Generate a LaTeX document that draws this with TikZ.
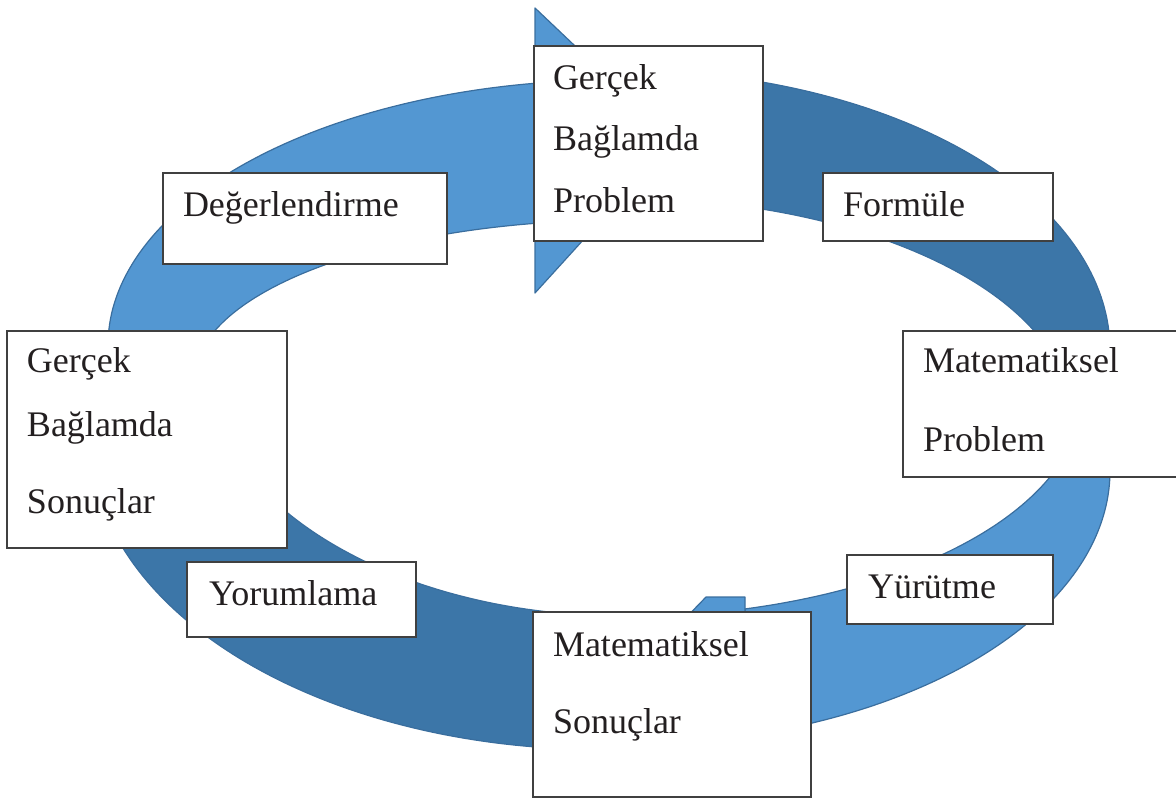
\documentclass[tikz,border=0pt]{standalone}
\usepackage{fontspec}
\setmainfont{Liberation Serif}
\definecolor{ringlight}{HTML}{5397D2}
\definecolor{ringdark}{HTML}{3C76A8}
\definecolor{ringedge}{HTML}{3A6E9E}
\definecolor{boxedge}{HTML}{404040}
\definecolor{ink}{HTML}{231F20}
\begin{document}
\begin{tikzpicture}[x=1pt,y=-1pt,
  lightseg/.style={fill=ringlight, draw=ringedge, line width=1.2pt, line join=round},
  darkseg/.style={fill=ringdark, draw=ringedge, line width=1.2pt, line join=round},
  stagebox/.style={draw=boxedge, fill=white, line width=1.4pt, inner sep=0pt, outer sep=0pt, anchor=north west},
  txt/.style={anchor=base west, inner sep=0pt, outer sep=0pt, text=ink, font=\fontsize{36}{40}\selectfont}]
\path[use as bounding box] (0,0) rectangle (1176,799);
\clip (0,0) rectangle (1176,799);

% dark quarter: top to right
\filldraw[darkseg]
  plot[domain=88:-10, samples=80] ({620+490*cos(\x)},{350-280*sin(\x)})
  -- plot[domain=-10:88, samples=80] ({622+450*cos(\x)},{420-222*sin(\x)}) -- cycle;

% dark quarter: bottom to left
\filldraw[darkseg]
  plot[domain=278:185, samples=80] ({600+510*cos(\x)},{438-311.5*sin(\x)})
  -- plot[domain=185:278, samples=80] ({622+420*cos(\x)},{355-261*sin(\x)}) -- cycle;

% light quarter: left to top
\filldraw[lightseg]
  plot[domain=195:99, samples=80] ({614+506*cos(\x)},{345-265*sin(\x)})
  -- plot[domain=101.7:195, samples=80] ({622+428*cos(\x)},{380-160*sin(\x)}) -- cycle;

% light quarter: right to bottom
\filldraw[lightseg]
  plot[domain=10:-75.2, samples=80] ({620+490*cos(\x)},{471-274*sin(\x)})
  -- plot[domain=-74.5:10, samples=80] ({622+460*cos(\x)},{396-221*sin(\x)}) -- cycle;

% arrow heads of the light quarters
\filldraw[lightseg] (535,8) -- (674,140) -- (535,293) -- cycle;
\filldraw[lightseg] (745,597) -- (706,597) -- (676,628) -- (745,640) -- cycle;

% stage boxes
\node[stagebox, minimum width=229pt, minimum height=195pt] (realprob) at (534,46) {};
\node[stagebox, minimum width=284pt, minimum height=91pt] (evaluate) at (163,173) {};
\node[stagebox, minimum width=230pt, minimum height=68pt] (formulate) at (823,173) {};
\node[stagebox, minimum width=280pt, minimum height=217pt] (realres) at (7,331) {};
\node[stagebox, minimum width=290pt, minimum height=146pt] (mathprob) at (903,331) {};
\node[stagebox, minimum width=206pt, minimum height=69pt] (execute) at (847,555) {};
\node[stagebox, minimum width=229pt, minimum height=75pt] (interpret) at (187,562) {};
\node[stagebox, minimum width=278pt, minimum height=185pt] (mathres) at (533,612) {};

% texts
\node[txt] (rp1) at (553,90) {Gerçek};
\node[txt] (rp2) at (553,151) {Bağlamda};
\node[txt] (rp3) at (553,213) {Problem};
\node[txt] (ev1) at (183,217) {Değerlendirme};
\node[txt] (fo1) at (843,217) {Formüle};
\node[txt] (rr1) at (27,373) {Gerçek};
\node[txt] (rr2) at (27,437) {Bağlamda};
\node[txt] (rr3) at (27,513) {Sonuçlar};
\node[txt] (mp1) at (923,373) {Matematiksel};
\node[txt] (mp2) at (923,452) {Problem};
\node[txt] (ex1) at (868,598) {Yürütme};
\node[txt] (in1) at (209,605) {Yorumlama};
\node[txt] (mr1) at (553,656) {Matematiksel};
\node[txt] (mr2) at (553,733) {Sonuçlar};
\end{tikzpicture}
\end{document}
